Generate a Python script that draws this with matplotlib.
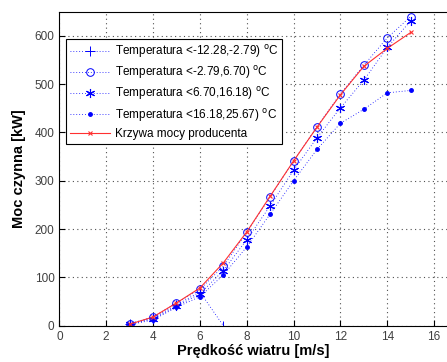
import matplotlib.pyplot as plt

plt.rcParams['font.family'] = ['Liberation Sans', 'DejaVu Sans']

v = [3, 4, 5, 6, 7, 8, 9, 10, 11, 12, 13, 14, 15]
v_plus = [3, 4, 5, 6, 7]
p_plus = [3, 16, 43, 70, 0]
p_circ = [4, 18, 47, 75, 123, 193, 267, 341, 412, 480, 539, 596, 640]
p_star = [3, 14, 40, 66, 114, 178, 248, 322, 389, 451, 508, 576, 631]
p_dot = [2, 12, 38, 60, 105, 163, 231, 300, 365, 419, 448, 482, 487]
p_prod = [3, 18, 47, 78, 130, 194, 268, 341, 411, 478, 537, 574, 607]

labels = ['Temperatura <-12.28,-2.79) $^{\\rm o}$C',
          'Temperatura <-2.79,6.70) $^{\\rm o}$C',
          'Temperatura <6.70,16.18) $^{\\rm o}$C',
          'Temperatura <16.18,25.67) $^{\\rm o}$C',
          'Krzywa mocy producenta']

fig = plt.figure(figsize=(4.47, 3.62), dpi=100)
ax = fig.add_axes([0.1327, 0.1003, 0.8673, 0.8674])

blue = '#0000ff'
dots = (0, (1, 2.5))
ax.plot(v_plus, p_plus, linestyle=dots, color=blue, lw=0.6, marker='+', ms=6.5, mew=0.7, label=labels[0])
ax.plot(v, p_circ, linestyle=dots, color=blue, lw=0.6, marker='o', ms=5.5, mfc='none', mew=0.7, label=labels[1])
ax.plot(v, p_star, linestyle=dots, color=blue, lw=0.6, marker=(6, 2, 0), ms=6.5, mew=0.8, label=labels[2])
ax.plot(v, p_dot, linestyle=dots, color=blue, lw=0.6, marker='.', ms=5, label=labels[3])
ax.plot(v, p_prod, '-', color='#ff3030', lw=0.8, marker='x', ms=3, mew=0.8, label=labels[4])

ax.set_xlim(0, 16.55)
ax.set_ylim(0, 650)
ax.set_xticks(range(0, 17, 2))
ax.set_yticks(range(0, 601, 100))
ax.grid(True, linestyle=(0, (1, 3)), color='#505050', lw=0.8)
ax.tick_params(direction='in', labelsize=8.5, labelcolor='#404040', length=4)
ax.spines['right'].set_visible(False)

ax.set_xlabel('Prędkość wiatru [m/s]', fontsize=10.5, fontweight='bold', labelpad=1)
ax.set_ylabel('Moc czynna [kW]', fontsize=10.5, fontweight='bold', labelpad=6)

leg = ax.legend(loc='upper left', bbox_to_anchor=(0.017, 0.913), borderaxespad=0,
                fontsize=8.5, handlelength=3.4, handletextpad=0.4, labelspacing=0.35,
                fancybox=False, framealpha=1, edgecolor='black', borderpad=0.35)
leg.get_frame().set_linewidth(0.8)

fig.savefig('out.png', dpi=100)
